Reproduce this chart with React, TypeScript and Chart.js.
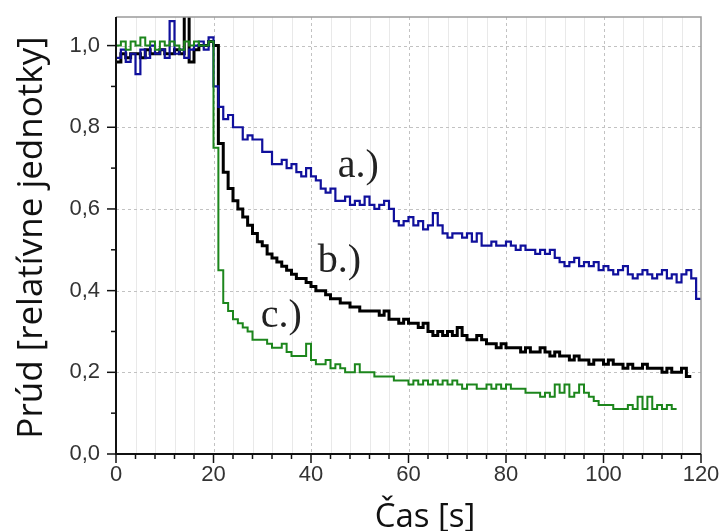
import React, { useEffect, useRef } from 'react';
import { Chart, registerables } from 'chart.js';

Chart.register(...registerables);

// time axis (s)
const TIME = [
  0, 1, 2, 3, 4, 5, 6, 7, 8, 9,
  10, 11, 12, 13, 14, 15, 16, 17, 18, 19,
  20, 21, 22, 23, 24, 25, 26, 27, 28, 29,
  30, 31, 32, 33, 34, 35, 36, 37, 38, 39,
  40, 41, 42, 43, 44, 45, 46, 47, 48, 49,
  50, 51, 52, 53, 54, 55, 56, 57, 58, 59,
  60, 61, 62, 63, 64, 65, 66, 67, 68, 69,
  70, 71, 72, 73, 74, 75, 76, 77, 78, 79,
  80, 81, 82, 83, 84, 85, 86, 87, 88, 89,
  90, 91, 92, 93, 94, 95, 96, 97, 98, 99,
  100, 101, 102, 103, 104, 105, 106, 107, 108, 109,
  110, 111, 112, 113, 114, 115, 116, 117, 118, 119,
  120,
];

// a.) blue
const SERIES_A = [
  0.97, 0.99, 0.96, 0.98, 0.93, 0.99, 0.97, 1.0, 0.98, 0.99,
  0.97, 1.06, 0.98, 0.99, 0.97, 0.99, 1.0, 1.01, 0.99, 1.02,
  0.9, 0.85, 0.82, 0.83, 0.8, 0.8, 0.77, 0.78, 0.77, 0.77,
  0.74, 0.74, 0.71, 0.71, 0.72, 0.7, 0.71, 0.69, 0.68, 0.7,
  0.68, 0.67, 0.65, 0.64, 0.65, 0.62, 0.62, 0.63, 0.61, 0.62,
  0.61, 0.63, 0.61, 0.6, 0.61, 0.62, 0.6, 0.57, 0.56, 0.57,
  0.58, 0.56, 0.57, 0.55, 0.56, 0.59, 0.56, 0.54, 0.53, 0.54,
  0.54, 0.53, 0.54, 0.52, 0.54, 0.51, 0.51, 0.52, 0.51, 0.51,
  0.52, 0.51, 0.5, 0.51, 0.5, 0.5, 0.49, 0.5, 0.49, 0.5,
  0.48, 0.47, 0.46, 0.47, 0.48, 0.46, 0.47, 0.46, 0.47, 0.45,
  0.46, 0.45, 0.44, 0.45, 0.46, 0.44, 0.43, 0.44, 0.45, 0.44,
  0.43, 0.44, 0.45, 0.43, 0.44, 0.42, 0.44, 0.45, 0.43, 0.38,
  0.38,
];

// b.) black
const SERIES_B = [
  0.96, 0.98, 0.97, 0.98, 0.98, 0.97, 0.99, 0.98, 0.98, 0.99,
  0.98, 0.98, 0.99, 0.98, 1.2, 0.96, 0.99, 1.0, 1.0, 1.01,
  1.0, 0.76, 0.69, 0.65, 0.62, 0.6, 0.58, 0.56, 0.54, 0.52,
  0.51, 0.49, 0.48, 0.47, 0.46, 0.45, 0.44, 0.43, 0.43, 0.42,
  0.41, 0.4, 0.4, 0.39, 0.38, 0.38, 0.37, 0.37, 0.36, 0.36,
  0.35, 0.35, 0.35, 0.35, 0.34, 0.35, 0.33, 0.33, 0.32, 0.33,
  0.32, 0.32, 0.31, 0.32, 0.3, 0.29, 0.3, 0.29, 0.3, 0.29,
  0.31, 0.29, 0.28, 0.28, 0.29, 0.28, 0.27, 0.27, 0.26, 0.27,
  0.26, 0.26, 0.26, 0.25, 0.26, 0.25, 0.25, 0.26, 0.25, 0.24,
  0.25, 0.24, 0.24, 0.23, 0.24, 0.23, 0.23, 0.22, 0.23, 0.23,
  0.22, 0.23, 0.22, 0.22, 0.21, 0.22, 0.21, 0.21, 0.22, 0.21,
  0.21, 0.21, 0.2, 0.21, 0.2, 0.2, 0.21, 0.19, 0.19,
];

// c.) green
const SERIES_C = [
  1.0, 1.01, 0.99, 1.01, 1.0, 1.02, 1.0, 1.01, 0.99, 1.01,
  1.0, 1.01, 1.0, 0.99, 1.01, 1.0, 1.01, 1.0, 1.0, 1.01,
  0.75, 0.45, 0.37, 0.35, 0.33, 0.32, 0.31, 0.3, 0.28, 0.28,
  0.28, 0.27, 0.26, 0.26, 0.27, 0.25, 0.24, 0.24, 0.24, 0.27,
  0.23, 0.22, 0.22, 0.23, 0.21, 0.22, 0.21, 0.2, 0.2, 0.22,
  0.2, 0.2, 0.2, 0.19, 0.19, 0.19, 0.19, 0.18, 0.18, 0.18,
  0.17, 0.18, 0.17, 0.18, 0.17, 0.18, 0.17, 0.18, 0.17, 0.18,
  0.17, 0.16, 0.17, 0.17, 0.16, 0.16, 0.17, 0.16, 0.17, 0.16,
  0.17, 0.16, 0.16, 0.16, 0.15, 0.15, 0.15, 0.14, 0.15, 0.14,
  0.17, 0.15, 0.17, 0.14, 0.15, 0.17, 0.15, 0.14, 0.13, 0.12,
  0.12, 0.12, 0.11, 0.11, 0.11, 0.12, 0.11, 0.14, 0.11, 0.14,
  0.11, 0.12, 0.11, 0.12, 0.11, 0.11,
];

const X_TICKS = [0, 20, 40, 60, 80, 100, 120];
const Y_TICKS = [0, 0.2, 0.4, 0.6, 0.8, 1.0];

const CURVE_LABELS = ['a.)', 'b.)', 'c.)'];
const CURVE_LABEL_T = [45.5, 41.4, 29.7];
const CURVE_LABEL_V = [0.678, 0.446, 0.311];

const X_TITLE = 'Čas [s]';
const Y_TITLE = 'Prúd [relatívne jednotky]';

const toPoints = (vals: number[]) => vals.map((v, i) => ({ x: TIME[i], y: v }));

const framePlugin = {
  id: 'originFrame',
  beforeDatasetsDraw(chart: any) {
    const { ctx, chartArea: a, scales } = chart;
    const xs = scales.x;
    const ys = scales.y;
    ctx.save();
    ctx.lineWidth = 1;
    for (let t = 4; t < 120; t += 4) {
      const px = Math.round(xs.getPixelForValue(t)) + 0.5;
      const major = t % 20 === 0;
      ctx.strokeStyle = major ? '#c2c2c2' : '#e9e9e9';
      ctx.setLineDash(major ? [3, 3] : []);
      ctx.beginPath();
      ctx.moveTo(px, a.top);
      ctx.lineTo(px, a.bottom);
      ctx.stroke();
    }
    ctx.strokeStyle = '#c2c2c2';
    ctx.setLineDash([3, 3]);
    for (const v of Y_TICKS) {
      if (v === 0) continue;
      const py = Math.round(ys.getPixelForValue(v)) + 0.5;
      ctx.beginPath();
      ctx.moveTo(a.left, py);
      ctx.lineTo(a.right, py);
      ctx.stroke();
    }
    ctx.restore();
  },
  afterDatasetsDraw(chart: any) {
    const { ctx, chartArea: a, scales } = chart;
    const xs = scales.x;
    const ys = scales.y;
    ctx.save();
    ctx.setLineDash([]);
    ctx.strokeStyle = '#9a9a9a';
    ctx.lineWidth = 1.5;
    ctx.beginPath();
    ctx.moveTo(a.left, a.top);
    ctx.lineTo(a.right, a.top);
    ctx.lineTo(a.right, a.bottom);
    ctx.stroke();
    ctx.strokeStyle = '#111';
    ctx.lineWidth = 2;
    ctx.beginPath();
    ctx.moveTo(a.left, a.top);
    ctx.lineTo(a.left, a.bottom);
    ctx.lineTo(a.right, a.bottom);
    ctx.stroke();
    ctx.lineWidth = 1.5;
    for (let k = 0; k <= 10; k++) {
      const py = ys.getPixelForValue(k / 10);
      const len = k % 2 === 0 ? 9 : 5;
      ctx.beginPath();
      ctx.moveTo(a.left - len, py);
      ctx.lineTo(a.left, py);
      ctx.stroke();
    }
    for (let t = 0; t <= 120; t += 4) {
      const px = xs.getPixelForValue(t);
      const len = t % 20 === 0 ? 9 : 5;
      ctx.beginPath();
      ctx.moveTo(px, a.bottom);
      ctx.lineTo(px, a.bottom + len);
      ctx.stroke();
    }
    ctx.fillStyle = '#222';
    ctx.font = '40px "Liberation Serif", "Times New Roman", serif';
    ctx.textAlign = 'left';
    ctx.textBaseline = 'alphabetic';
    CURVE_LABELS.forEach((lab, i) => {
      ctx.fillText(lab, xs.getPixelForValue(CURVE_LABEL_T[i]), ys.getPixelForValue(CURVE_LABEL_V[i]));
    });
    ctx.restore();
  },
  afterDraw(chart: any) {
    const { ctx, chartArea: a } = chart;
    ctx.save();
    ctx.fillStyle = '#111';
    ctx.textAlign = 'center';
    ctx.textBaseline = 'alphabetic';
    ctx.font = '33px "Open Sans", "Noto Sans", sans-serif';
    ctx.fillText(X_TITLE, a.left + 309, a.bottom + 73);
    ctx.translate(a.left - 74, (a.top + a.bottom) / 2 + 2);
    ctx.rotate(-Math.PI / 2);
    ctx.font = '35px "Open Sans", "Noto Sans", sans-serif';
    ctx.fillText(Y_TITLE, 0, 0);
    ctx.restore();
  },
};

export default function App() {
  const ref = useRef<HTMLCanvasElement | null>(null);
  useEffect(() => {
    if (!ref.current) return;
    const chart = new Chart(ref.current, {
      type: 'line',
      data: {
        datasets: [
          {
            label: 'c.)',
            data: toPoints(SERIES_C),
            borderColor: '#1c861c',
            borderWidth: 2,
            stepped: true,
            pointRadius: 0,
            fill: false,
          },
          {
            label: 'a.)',
            data: toPoints(SERIES_A),
            borderColor: '#10109c',
            borderWidth: 2.2,
            stepped: true,
            pointRadius: 0,
            fill: false,
          },
          {
            label: 'b.)',
            data: toPoints(SERIES_B),
            borderColor: '#000000',
            borderWidth: 3,
            stepped: true,
            pointRadius: 0,
            fill: false,
          },
        ],
      },
      options: {
        responsive: false,
        animation: false,
        events: [],
        layout: { padding: { top: 17, right: 20, left: 0, bottom: 0 } },
        plugins: { legend: { display: false }, tooltip: { enabled: false }, title: { display: false } },
        scales: {
          x: {
            type: 'linear',
            min: 0,
            max: 120,
            grid: { display: false, drawTicks: false },
            border: { display: false },
            afterFit: (s: any) => {
              s.height = 77;
              s.paddingLeft = 0;
              s.paddingRight = 0;
            },
            afterBuildTicks: (s: any) => {
              s.ticks = X_TICKS.map((v) => ({ value: v }));
            },
            ticks: {
              padding: 8,
              color: '#333',
              maxRotation: 0,
              autoSkip: false,
              font: { family: '"Liberation Sans", Arial, sans-serif', size: 22 },
            },
          },
          y: {
            type: 'linear',
            min: 0,
            max: 1.07,
            grid: { display: false, drawTicks: false },
            border: { display: false },
            afterFit: (s: any) => {
              s.width = 116;
              s.paddingTop = 0;
              s.paddingBottom = 0;
            },
            afterBuildTicks: (s: any) => {
              s.ticks = Y_TICKS.map((v) => ({ value: v }));
            },
            ticks: {
              padding: 16,
              color: '#333',
              autoSkip: false,
              font: { family: '"Liberation Sans", Arial, sans-serif', size: 22 },
              callback: (v: any) => Number(v).toFixed(1).replace('.', ','),
            },
          },
        },
      },
      plugins: [framePlugin],
    });
    return () => chart.destroy();
  }, []);
  return (
    <canvas
      ref={ref}
      width={721}
      height={531}
      style={{ position: 'absolute', left: 0, top: 0, display: 'block' }}
    />
  );
}
